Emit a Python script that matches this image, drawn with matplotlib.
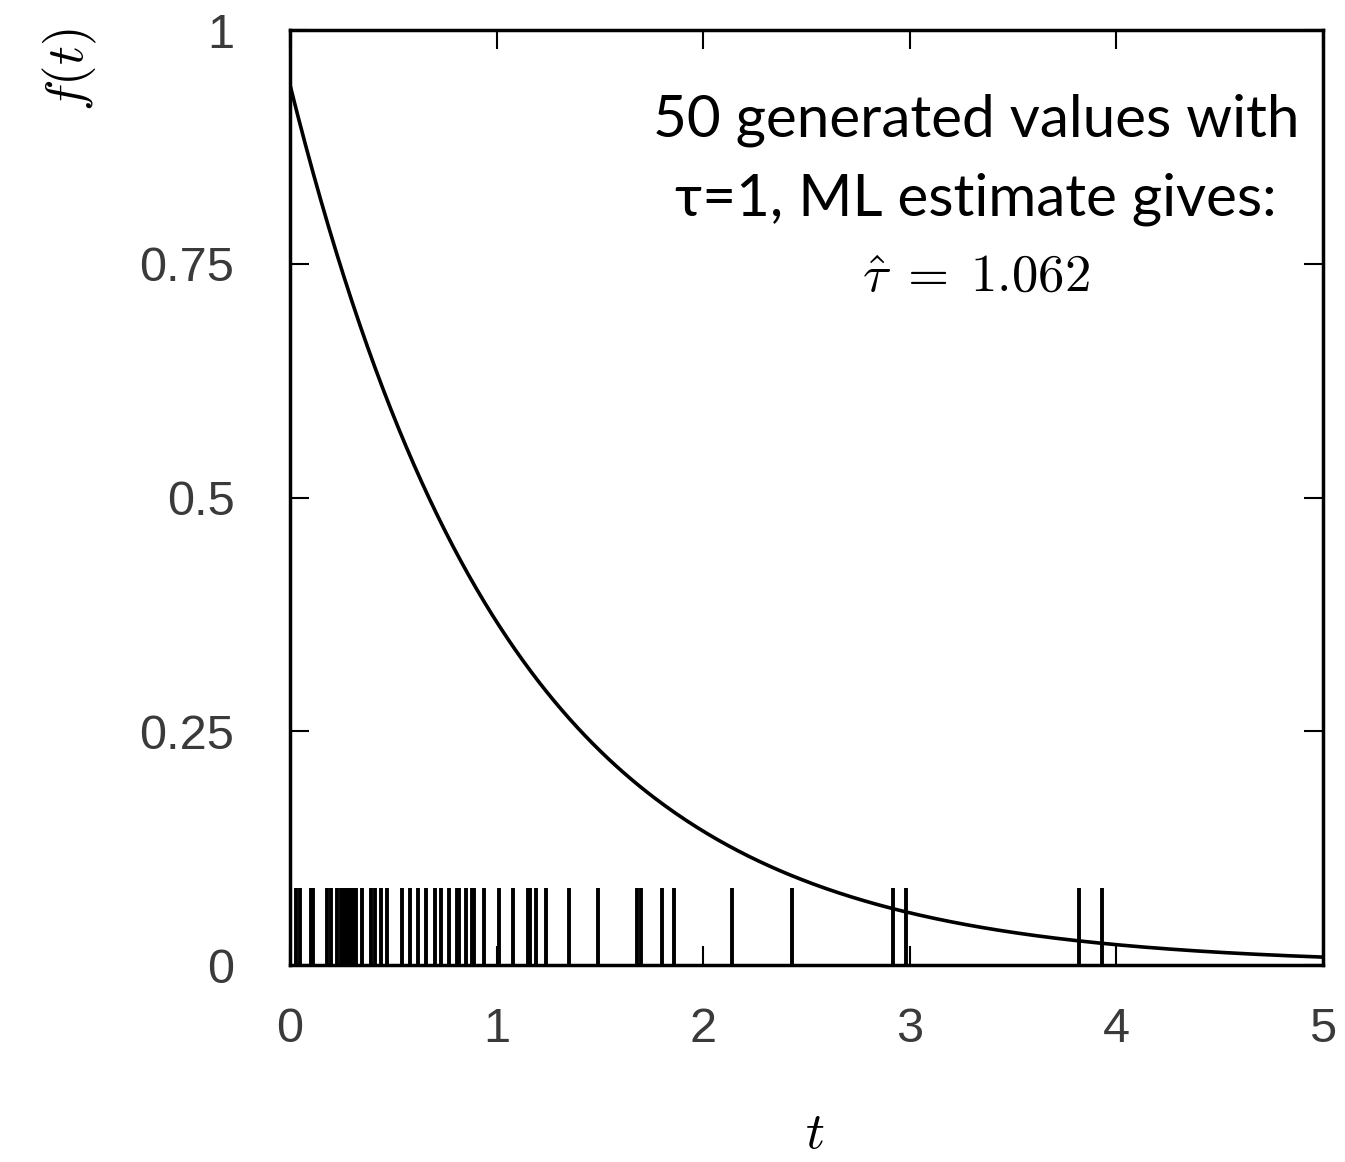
import numpy as np
import matplotlib
matplotlib.use('Agg')
import matplotlib.pyplot as plt

# ML estimate and the 50 generated values (read off the rug)
TAU_HAT = 1.062
t_values = [0.03, 0.05, 0.10, 0.11, 0.18, 0.20, 0.23, 0.245, 0.26, 0.27,
            0.285, 0.30, 0.31, 0.32, 0.35, 0.39, 0.41, 0.44, 0.47, 0.54,
            0.58, 0.62, 0.66, 0.70, 0.73, 0.77, 0.81, 0.82, 0.85, 0.88,
            0.89, 0.94, 1.01, 1.08, 1.15, 1.16, 1.19, 1.24, 1.35, 1.49,
            1.68, 1.70, 1.80, 1.86, 2.14, 2.43, 2.92, 2.98, 3.82, 3.93]
RUG_HEIGHT = 0.082

x_ticks = [0, 1, 2, 3, 4, 5]
y_ticks = [0, 0.25, 0.5, 0.75, 1]
y_ticklabels = ['0', '0.25', '0.5', '0.75', '1']

# fitted pdf f(t) = exp(-t/tau)/tau
t = np.linspace(0, 5, 400)
f = np.exp(-t / TAU_HAT) / TAU_HAT

fig = plt.figure(figsize=(13.45, 11.62), dpi=100)
ax = fig.add_axes([0.2156, 0.1695, 0.768, 0.8045])

ax.plot(t, f, color='black', lw=2.6)
ax.vlines(t_values, 0, RUG_HEIGHT, color='black', lw=2.8)

ax.set_xlim(0, 5)
ax.set_ylim(0, 1)
ax.set_xticks(x_ticks)
ax.set_yticks(y_ticks)
ax.set_yticklabels(y_ticklabels)
ax.tick_params(direction='in', length=14, width=1.5, top=True, right=True,
               labelsize=35, labelcolor='#3a3a3a')
for lab in ax.get_xticklabels() + ax.get_yticklabels():
    lab.set_family('Liberation Sans')
ax.tick_params(axis='y', pad=40)
ax.tick_params(axis='x', pad=30)
for s in ax.spines.values():
    s.set_linewidth(2.5)

fig.text(0.052, 0.94, r'$f(t)$', rotation=90, fontsize=38,
         ha='center', va='center', math_fontfamily='cm')
fig.text(0.606, 0.025, r'$t$', fontsize=38, ha='center', va='center',
         math_fontfamily='cm')

ax.text(0.664, 0.886, '50 generated values with',
        transform=ax.transAxes, ha='center', va='baseline', fontsize=42,
        family='Lato')
ax.text(0.664, 0.802, '\u03c4=1, ML estimate gives:',
        transform=ax.transAxes, ha='center', va='baseline', fontsize=42,
        family='Lato')
ax.text(0.664, 0.72, r'$\hat{\tau}\;=\;1.062$', transform=ax.transAxes,
        ha='center', va='baseline', fontsize=38, math_fontfamily='cm')

fig.savefig('out.png', dpi=100)
